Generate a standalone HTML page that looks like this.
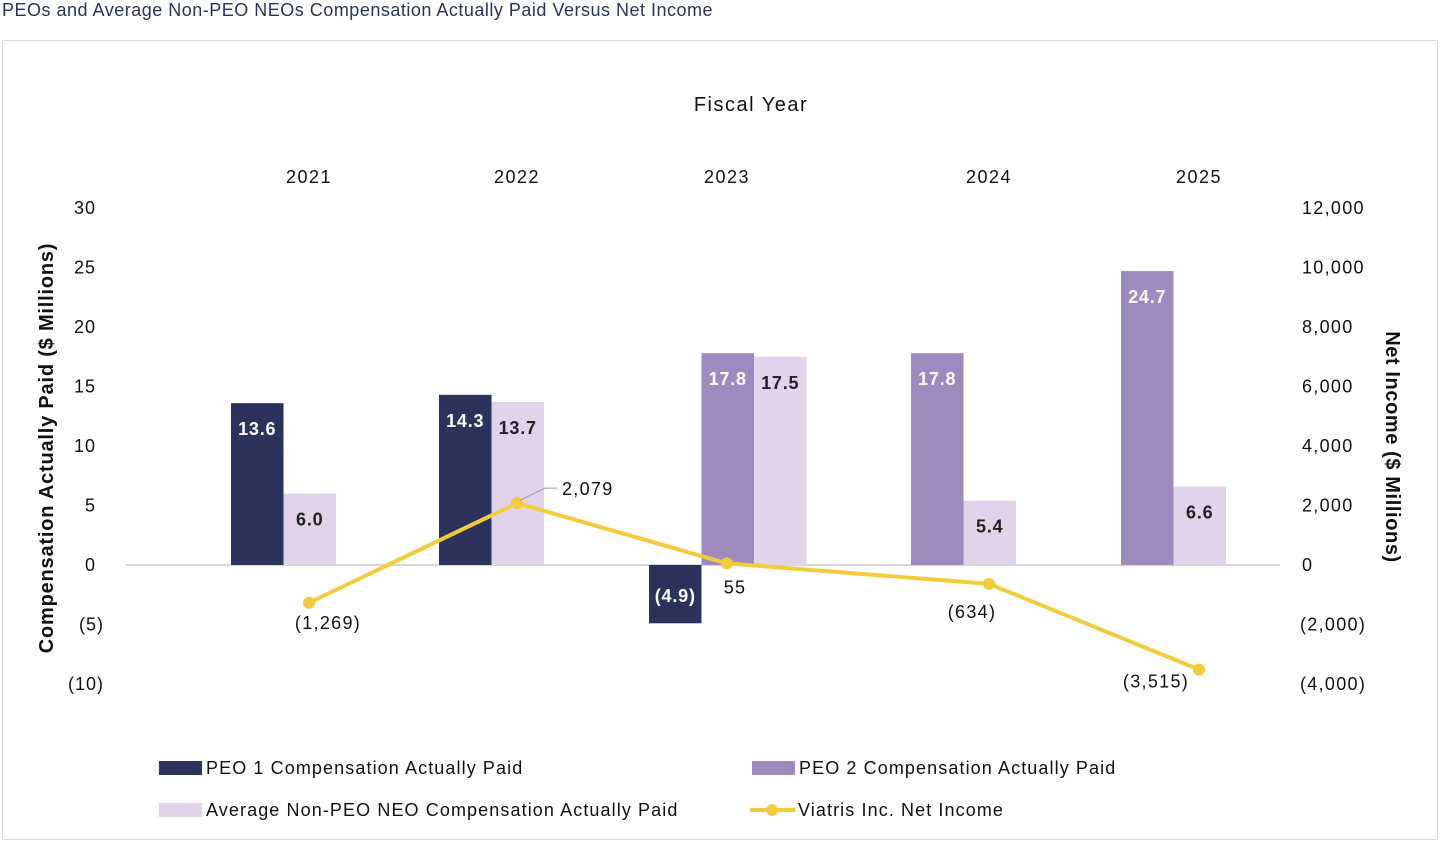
<!DOCTYPE html>
<html><head><meta charset="utf-8">
<style>
body{margin:0;background:#fff;width:1450px;height:852px;overflow:hidden;font-family:"Liberation Sans",sans-serif;}
#title{position:absolute;left:2px;top:0px;font-size:18px;color:#2b335c;letter-spacing:0.5px;}
#frame{position:absolute;left:2px;top:40px;width:1436px;height:800px;border:1.5px solid #d3dde6;box-sizing:border-box;}
svg{position:absolute;left:0;top:0;}
text{font-family:"Liberation Sans",sans-serif;fill:#111;}
</style></head><body>
<div id="title">PEOs and Average Non-PEO NEOs Compensation Actually Paid Versus Net Income</div>
<div id="frame"></div>
<svg id="c" width="1450" height="852"></svg>
<script>
const years=["2021","2022","2023","2024","2025"];
const peo1=[13.6,14.3,-4.9,null,null];
const peo2=[null,null,17.8,17.8,24.7];
const avgNeo=[6.0,13.7,17.5,5.4,6.6];
const netIncome=[-1269,2079,55,-634,-3515];
const leftTicks=[30,25,20,15,10,5,0,-5,-10];
const rightTicks=[12000,10000,8000,6000,4000,2000,0,-2000,-4000];

const yearX=[309,517,727,989,1199];
const yL=v=>565-v*11.9;
const yR=v=>565-v*0.02975;
const svg=document.getElementById('c');
const NS='http://www.w3.org/2000/svg';
function el(t,a,txt){const e=document.createElementNS(NS,t);for(const k in a)e.setAttribute(k,a[k]);if(txt!==undefined)e.textContent=txt;svg.appendChild(e);return e;}
const fmtL=v=>v<0?'('+Math.abs(v)+')':String(v);
const fmtR=v=>{const s=Math.abs(v).toLocaleString('en-US');return v<0?'('+s+')':s;};
const fmtB=v=>v<0?'('+Math.abs(v).toFixed(1)+')':v.toFixed(1);

let t=el('text',{x:751,y:111,'font-size':20,'text-anchor':'middle','letter-spacing':'1.5'},'Fiscal Year');

t=el('text',{transform:'translate(53,448) rotate(-90)','font-size':20,'font-weight':'bold','text-anchor':'middle','letter-spacing':'0.8'},'Compensation Actually Paid ($ Millions)');

t=el('text',{transform:'translate(1386,447) rotate(90)','font-size':20,'font-weight':'bold','text-anchor':'middle','letter-spacing':'0.6'},'Net Income ($ Millions)');


leftTicks.forEach(v=>{const e=el('text',{x:v<0?104:96,y:yL(v)+6,'font-size':18,'text-anchor':'end','letter-spacing':'1'},fmtL(v));
});
rightTicks.forEach(v=>{const e=el('text',{x:v<0?1300:1302,y:yR(v)+6,'font-size':18,'letter-spacing':'1.3'},fmtR(v));
});
years.forEach((y,i)=>{const e=el('text',{x:yearX[i],y:183,'font-size':18,'text-anchor':'middle','letter-spacing':'1.5'},y);
});

const zl=el('line',{x1:125,x2:1280,y1:565,y2:565,stroke:'#c8c8c8','stroke-width':1.5});


const series=[{d:peo1,c:'#2b335c',tc:'#fff',n:'peo1-bar'},{d:peo2,c:'#9f8ac0',tc:'#fff',n:'peo2-bar'},{d:avgNeo,c:'#e0d3ea',tc:'#222',n:'avg-neo-bar'}];
const bw=52.5;
years.forEach((y,i)=>{
  let x=yearX[i]-78;
  series.forEach(s=>{
    const v=s.d[i]; if(v===null)return;
    const top=Math.min(yL(v),yL(0)),h=Math.abs(yL(v)-yL(0));
    const r=el('rect',{x:x,y:top,width:bw,height:h,fill:s.c});
    
    const ly=v<0?(top+h/2+8):(top+32);
    const lb=el('text',{x:x+bw/2,y:ly,'font-size':18,'font-weight':'bold','text-anchor':'middle','letter-spacing':'0.8',style:'fill:'+s.tc},fmtB(v));
    
    x+=bw;
  });
});

const pts=netIncome.map((v,i)=>[yearX[i],yR(v)]);
const pl=el('polyline',{points:pts.map(p=>p.join(',')).join(' '),fill:'none',stroke:'#f2cc3d','stroke-width':4});

pts.forEach(p=>{const c=el('circle',{cx:p[0],cy:p[1],r:6,fill:'#f2cc3d'});
});
const offs=[[19,26,'middle'],[45,-8,'start'],[8,30,'middle'],[-17,34,'middle'],[-43,18,'middle']];
netIncome.forEach((v,i)=>{
  const o=offs[i];
  const e=el('text',{x:pts[i][0]+o[0],y:pts[i][1]+o[1],'font-size':18,'text-anchor':o[2],'letter-spacing':'1.3'},fmtR(v));
  
});
const ld=el('polyline',{points:`${pts[1][0]+3},${pts[1][1]-3} ${pts[1][0]+28},${pts[1][1]-15} ${pts[1][0]+40},${pts[1][1]-15}`,fill:'none',stroke:'#999','stroke-width':1});


const leg=[[159,768,'rect','#2b335c','PEO 1 Compensation Actually Paid','legend-peo1'],
[752,768,'rect','#9f8ac0','PEO 2 Compensation Actually Paid','legend-peo2'],
[159,810,'rect','#e0d3ea','Average Non-PEO NEO Compensation Actually Paid','legend-avg-neo'],
[750,810,'line','#f2cc3d','Viatris Inc. Net Income','legend-net-income']];
leg.forEach(l=>{
  let s;
  if(l[2]==='rect'){s=el('rect',{x:l[0],y:l[1]-7,width:43,height:14,fill:l[3]});}
  else{s=el('line',{x1:l[0],x2:l[0]+45,y1:l[1],y2:l[1],stroke:l[3],'stroke-width':4});
    const d=el('circle',{cx:l[0]+22,cy:l[1],r:6,fill:l[3]});}
  
  const tx=el('text',{x:l[2]==='rect'?l[0]+47:l[0]+48,y:l[1]+6,'font-size':18,'letter-spacing':'1.1'},l[4]);
  
});
</script>
</body></html>
